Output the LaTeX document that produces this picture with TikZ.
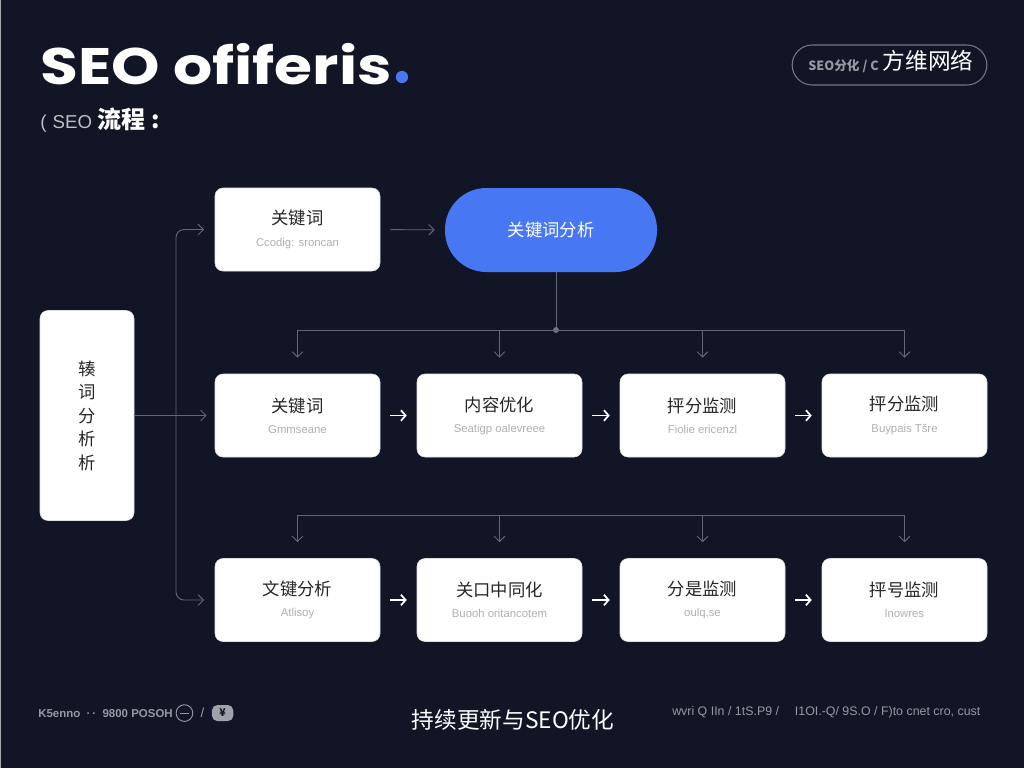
\documentclass[tikz,border=0pt]{standalone}
\usepackage{fontspec}
\setmainfont{Noto Sans CJK SC}
\newfontfamily\titlefont{Poppins}
\newfontfamily\latinfont{Liberation Sans}
\usetikzlibrary{arrows.meta,positioning,calc}

\definecolor{bgnavy}{RGB}{17,21,37}
\definecolor{linkgray}{RGB}{98,103,120}
\definecolor{subgray}{RGB}{175,175,178}
\definecolor{pillblue}{RGB}{71,119,242}
\definecolor{footgray}{RGB}{150,152,162}

\newcommand{\cardtext}[2]{{\fontsize{13}{15}\selectfont #1}\\[4pt]{\latinfont\fontsize{8.5}{10}\selectfont\color{subgray}#2}}

\begin{document}
\begin{tikzpicture}[x=0.75pt,y=0.75pt,yscale=-1,
  card/.style={draw=black!12,line width=0.4pt,fill=white,rounded corners=6pt,minimum width=123.75pt,minimum height=62.25pt,align=center,inner sep=0pt,text=black!85},
  link/.style={draw=linkgray,line width=0.7pt},
  tip/.style={-{Straight Barb[length=4pt,width=8pt]}},
  steparrow/.style={draw=white,line width=1.3pt,-{Straight Barb[length=3.5pt,width=8pt]},shorten <=7.5pt,shorten >=7.5pt}]

\useasboundingbox[fill=bgnavy] (0,0) rectangle (1024,768);
\draw[black!35,line width=1.5pt] (0,0) -- (0,768);

% header
\node[anchor=base west,inner sep=0pt,xscale=1.2,text=white,font=\titlefont\bfseries\fontsize{38.5}{44}\selectfont] (title) at (40,84) {SEO ofiferis};
\fill[pillblue] ($(title.base east)+(10,-7)$) circle (4.6pt);
\node[anchor=base west,inner sep=0pt,text=subgray!80,font=\latinfont\fontsize{14}{16}\selectfont] (subtag) at (40,128) {(\,\,SEO};
\node[anchor=base west,inner sep=0pt,text=white,font=\bfseries\fontsize{18}{20}\selectfont] (subcn) at ($(subtag.base east)+(5,0)$) {流程 :};

\node[draw=linkgray!90,line width=0.8pt,rounded corners=15pt,minimum width=146pt,minimum height=30pt] (badge) at (889.5,65) {};
\node[anchor=west,inner sep=0pt,text=footgray,font=\bfseries\fontsize{9.5}{11}\selectfont] (badgetag) at (808,66) {SEO分化 / C};
\node[text=white,font=\fontsize{17}{20}\selectfont] (badgename) at (928,61) {方维网络};

% boxes
\node[card] (kw) at (297.5,229.5) {\cardtext{关键词}{Ccodig: sroncan}};
\node[fill=pillblue,rounded corners=31pt,minimum width=159pt,minimum height=63pt,text=white,font=\fontsize{13}{15}\selectfont] (kwa) at (551,230) {关键词分析};

\node[card,minimum width=70.5pt,minimum height=157.5pt,font=\fontsize{13}{17.6}\selectfont] (tall) at (87,415.5) {辏\\词\\分\\析\\析};

\node[card] (r1c1) at (297.5,415.5) {\cardtext{关键词}{Gmmseane}};
\node[card] (r1c2) at (499.5,415.5) {\cardtext{内容优化}{Seatigp oalevreee}};
\node[card] (r1c3) at (702.5,415.5) {\cardtext{抨分监测}{Fiolie ericenzl}};
\node[card] (r1c4) at (904.5,415.5) {\cardtext{抨分监测}{Buypais Tšre}};

\node[card] (r2c1) at (297.5,600) {\cardtext{文键分析}{Atlisoy}};
\node[card] (r2c2) at (499.5,600) {\cardtext{关口中同化}{Buooh oritancotem}};
\node[card] (r2c3) at (702.5,600) {\cardtext{分是监测}{oulq,se}};
\node[card] (r2c4) at (904.5,600) {\cardtext{抨号监测}{lnowres}};

% connectors
\draw[link,tip,shorten <=7.5pt,shorten >=7.5pt] (kw) -- (kwa);

\coordinate (hub) at (556,330);
\coordinate (hubb) at (556,515);
\draw[link] (hub |- kwa.south) -- (hub);
\fill[linkgray!90] (hub) circle (2.2pt);
\draw[link] (hub -| r1c1) -- (hub -| r1c4);
\draw[link] (hubb -| r2c1) -- (hubb -| r2c4);
\foreach \c in {1,2,3,4}{
  \draw[link,tip,shorten >=12pt] (hub -| r1c\c) -- (r1c\c.north);
  \draw[link,tip,shorten >=12pt] (hubb -| r2c\c) -- (r2c\c.north);
}

\coordinate (trunk) at (176,415.5);
\draw[link,tip,shorten >=6pt] (tall.east) -- (r1c1.west);
\draw[link,tip,rounded corners=6pt,shorten >=8pt] (trunk) |- (kw.west);
\draw[link,tip,rounded corners=6pt,shorten >=8pt] (trunk) |- (r2c1.west);

\foreach \a/\b in {r1c1/r1c2,r1c2/r1c3,r1c3/r1c4,r2c1/r2c2,r2c2/r2c3,r2c3/r2c4}
  \draw[steparrow] (\a) -- (\b);

% footer
\node[anchor=base west,inner sep=0pt,text=footgray,font=\latinfont\bfseries\fontsize{8.6}{10}\selectfont] (footl) at (38,717) {K5enno \;·\,·\; 9800 POSOH};
\node[circle,draw=footgray,line width=0.7pt,minimum size=12.5pt,inner sep=0pt,right=2pt of footl] (minus) {};
\draw[footgray,line width=0.8pt] ([xshift=-3.2pt]minus.center) -- ([xshift=3.2pt]minus.center);
\node[right=2pt of minus,text=footgray,font=\latinfont\fontsize{10}{12}\selectfont] (slash) {/};
\node[right=2pt of slash,fill=footgray!90,rounded corners=4pt,minimum width=16pt,minimum height=12pt,inner sep=0pt,text=bgnavy,font=\bfseries\fontsize{8}{9}\selectfont] (yen) {¥};

\node[text=white,font=\fontsize{17}{20}\selectfont] (footc) at (513,720) {持续更新与SEO优化};
\node[anchor=west,inner sep=0pt,text=footgray,font=\latinfont\fontsize{9.3}{11}\selectfont] (footr) at (672,712) {wvri Q IIn / 1tS.P9 / \quad I1OI.-Q/ 9S.O / F)to cnet cro, cust};
\end{tikzpicture}
\end{document}
